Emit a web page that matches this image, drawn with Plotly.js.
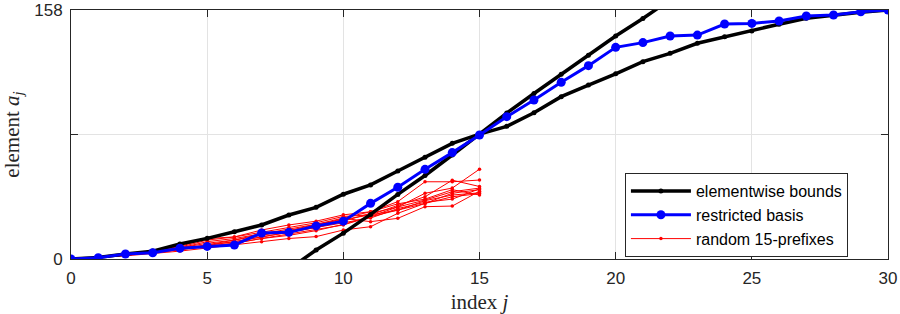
<!DOCTYPE html>
<html>
<head>
<meta charset="utf-8">
<script src="https://cdn.plot.ly/plotly-3.0.1.min.js"></script>
<style>html,body{margin:0;padding:0;background:#fff}#chart{width:900px;height:314px}</style>
</head>
<body>
<div id="chart"></div>
<script>
// ---- data ----
const xFull = [0,1,2,3,4,5,6,7,8,9,10,11,12,13,14,15,16,17,18,19,20,21,22,23,24,25,26,27,28,29,30];
const boundCurve = [0,1,3.2,5,9.5,13.1,17.3,21.6,27.9,32.8,41.1,47,55.8,64.5,73.4,79.2,84.2,92.8,103,110.4,117.5,125.2,130.5,136.9,141,144.7,149,152.7,154.8,156.5,158];
const xLine = [8,9,10,11,12,13,14,15,16,17,18,19,20,21,22];
const boundLine = [-6.5,5.7,16.4,28.3,41,53,66,79.5,92.6,105,117.3,129.3,141.5,152.6,164.5];
const restricted = [0,0.8,3.2,4,6.8,8,8.9,16.5,16.9,21,24,35.3,45.5,56.9,67.5,78.7,90.3,100.9,112.1,122.7,134.3,137.3,141.5,142.1,149.1,149.5,151,154.2,154.8,156.9,158];
const xPrefix = [0,1,2,3,4,5,6,7,8,9,10,11,12,13,14,15];
const prefix1 = [0,1,2.5,4,6,8,10,13,15,18,22,27,33,41.7,45,57];
const prefix2 = [0,1,3,5,7,10,12,16,19,22,26,30,36.4,49,49,50.1];
const prefix3 = [0,0.8,2.5,4.5,7.5,12,14,17,20,23,27,28,34,39.5,50,46];
const prefix4 = [0,1,3,4,6,9,11,14,17,20,24,29,33,37.4,42.7,45];
const prefix5 = [0,0.8,2,3.5,5,7,9,11,13,14.2,18.4,20.5,29,35.3,41.7,44];
const prefix6 = [0,1,3,5,7,11,13,16,18,21,25.8,23.7,25.8,33.2,33.6,43];
const prefix7 = [0,1,2.5,4,6.5,9,12,15,18,22,25,27.9,31,37,40.6,42];
const prefix8 = [0,0.8,2.5,3.8,6,8,10,13,16,19,21.6,26.8,31,35,39.5,41.5];
const prefix9 = [0,1,3,5,8,13,14,18.4,21.6,24,28,30,35,38,44,40.6];
const prefix10 = [0,0.8,2.5,4,6,8.5,11,14,17,20,23,26,32,36,38,44.5];
const prefixes = [prefix1,prefix2,prefix3,prefix4,prefix5,prefix6,prefix7,prefix8,prefix9,prefix10];
const xTicks = [0,5,10,15,20,25,30];
const yTicks = [0,158];
const yMinorTicks = [79];

// ---- traces ----
const traces = [];
prefixes.forEach((p, i) => {
  traces.push({
    x: xPrefix, y: p, type: 'scatter', mode: 'lines+markers',
    name: 'random 15-prefixes', showlegend: i === 0, legendrank: 3,
    line: {color: '#ff0000', width: 1},
    marker: {color: '#ff0000', size: 3.5}
  });
});
traces.push({
  x: xFull, y: boundCurve, type: 'scatter', mode: 'lines+markers',
  name: 'elementwise bounds', legendrank: 1,
  line: {color: '#000000', width: 3.5},
  marker: {color: '#000000', size: 5}
});
traces.push({
  x: xLine, y: boundLine, type: 'scatter', mode: 'lines+markers',
  name: 'elementwise bounds', showlegend: false,
  line: {color: '#000000', width: 3.5},
  marker: {color: '#000000', size: 5}
});
traces.push({
  x: xFull, y: restricted, type: 'scatter', mode: 'lines+markers',
  name: 'restricted basis', legendrank: 2,
  line: {color: '#0000ff', width: 3},
  marker: {color: '#0000ff', size: 9}
});

const gridCol = '#e3e3e3';
const axisCommon = {
  showline: true, linecolor: '#262626', linewidth: 1, mirror: 'ticks',
  ticks: 'inside', ticklen: 7, tickcolor: '#262626', tickwidth: 1,
  showgrid: true, gridcolor: gridCol, gridwidth: 1, zeroline: false,
  tickfont: {family: 'Liberation Sans, Arial, sans-serif', size: 17, color: '#262626'}
};

const layout = {
  width: 900, height: 314,
  margin: {l: 71, r: 12, t: 10, b: 55},
  paper_bgcolor: '#ffffff', plot_bgcolor: '#ffffff',
  showlegend: true,
  xaxis: Object.assign({}, axisCommon, {
    range: [0, 30], tickmode: 'array', tickvals: xTicks, ticktext: xTicks.map(String),
    ticklabelstandoff: 4,
    title: {text: 'index <i>j</i>', standoff: 6,
      font: {family: 'Liberation Serif, Times New Roman, serif', size: 21, color: '#262626'}}
  }),
  yaxis: Object.assign({}, axisCommon, {
    range: [0, 158], tickmode: 'array', tickvals: yTicks, ticktext: yTicks.map(String),
    ticklabelstandoff: 4,
    minor: {tickmode: 'array', tickvals: yMinorTicks, ticks: 'inside', ticklen: 7,
      tickcolor: '#262626', showgrid: true, gridcolor: gridCol, gridwidth: 1},
    title: {text: 'element <i>a<sub>j</sub></i>', standoff: 10,
      font: {family: 'Liberation Serif, Times New Roman, serif', size: 21, color: '#262626'}}
  }),
  legend: {
    x: 0.678, y: 0.345, xanchor: 'left', yanchor: 'top',
    bgcolor: '#ffffff', bordercolor: '#262626', borderwidth: 1,
    font: {family: 'Liberation Sans, Arial, sans-serif', size: 16, color: '#000000'},
    tracegroupgap: 0, itemwidth: 60
  }
};

Plotly.newPlot('chart', traces, layout, {displayModeBar: false, staticPlot: true});
</script>
</body>
</html>
